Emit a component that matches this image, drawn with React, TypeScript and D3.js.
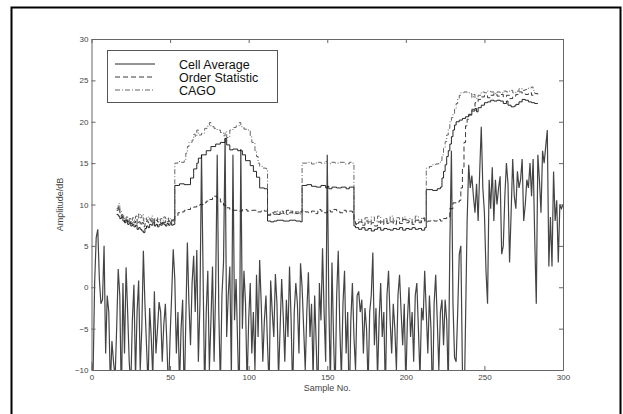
import React, { useEffect, useRef } from "react";
import * as d3 from "d3";

// received signal, one value per sample (0..300), in dB
const signal = [
  -9, -10.5, 0.5, 6, 7, 1, -2, -1.5, 5, -8, -1, -3, -12, -6.5, -9, -11, -5, 2.2, -1, -14,
  0.5, -8, 2.4, -3, -9, -12, -4, 0.3, -11, -3, 0.8, -10, -5, 4.4, -2, -7, -12, -2.5, -6, -11,
  -0.5, -8, -5, -1.8, -3, -9, -4.5, -2, -7, -13, -6, -1, 4.6, 1, -8, -3, -12, -5, -1.5, -14,
  -4, 5.4, -2, -7, 0.5, 3.8, -3, 4.5, -9, -2, 16, 1.5, -13, -3, 2, -10, -4, 2.5, -9, 0,
  16, -3, -12, -1, 3, 18, -6, -1, 2.5, -11, 16, -4, 1, -7, -14, 16.7, -5, 2, -2, -12,
  -4, 0.5, -8, -3, -10, 1.5, -6, 3.3, -2, -9, -4, -1, -7, -12, 0.8, -3, -6, 1.6, -2, -11,
  -5, 1, -3.5, -9, -1.5, -6, 2.5, -4, -13, -3, 0.5, -2, -8, 2.9, 0, -5, -10, -3, 1.8, -6,
  -2, -11, -1, -7, -14, 0.5, -4, 4.7, -3, -9, 16, -2, -12, 3, -6, -13, -1, 4.4, -5, -11,
  -2, 2, -8, -3, -15, -4, 0.5, -6, -10, -1, -0.5, -3, -1.5, -8, -2.5, -5, -12, -3, -1, 4.2,
  -7, -2.5, -11, -4, 0.5, -6, -3, -13, -1, 2, -4, -8, -2, -5, -10, -1, 1.5, -3, -7, -2,
  -12, -4, 0, -6, -3, -9, -1, 0.5, -5, -11, -2.5, -4, 2, -3, -8, -1, -5, -14, -2, 1.5,
  -4, -10, -3, -1.5, -7, -1.5, -4, -12, 5, 16.5, -2, -8.5, -9, -3, 4, 5, -10, -16, -4, 8,
  14.8, 12, 13.5, 11, 9, 12.5, 8, 14, 19.4, 12, 9, 2, -2, 13, 9.5, 14.5, 8, 13, 10, 12,
  13.4, 4, 5, 11, 15, 12.5, 3, 9, 15.5, 11, 9.5, 14, 12, 13, 15.5, 8, 10, 13, 12, 15,
  11, 15.5, 6, -2, 16, 13, 9, 16.5, 15, 17, 19, 2.5, 8.5, 2.5, 14, 8, 10.5, 3, 10, 9.5,
  10,
];

// Cell Average threshold [sample, dB]
const caPoints: [number, number][] = [
  [16, 8.8], [17, 8.6], [18, 8.3], [19, 8.5], [20, 8.0], [21, 7.8], [22, 8.1], [23, 7.6], [24, 7.8], [25, 7.4],
  [26, 7.6], [27, 7.3], [28, 7.5], [29, 7.0], [30, 7.2], [31, 7.0], [32, 6.8], [33, 6.6], [34, 7.1], [35, 7.4],
  [36, 7.2], [37, 7.6], [38, 7.5], [39, 7.8], [40, 7.4], [41, 7.6], [42, 7.3], [43, 7.6], [44, 7.5], [45, 7.8],
  [46, 7.6], [47, 7.4], [48, 7.7], [49, 7.5], [50, 7.8], [51, 7.5], [52, 7.6], [53, 12.3], [56, 12.5], [59, 12.4],
  [63, 13.2], [65, 14.3], [67, 15.0], [68, 15.6], [70, 16.0], [73, 16.5], [76, 17.0], [79, 17.3], [82, 17.5],
  [85, 18.0], [86, 17.2], [88, 16.6], [90, 16.7], [93, 16.5], [96, 16.0], [98, 15.3], [101, 14.7], [103, 14.0],
  [105, 13.3], [107, 12.0], [110, 11.9], [112, 8.0], [114, 7.9], [116, 8.0], [118, 8.1], [122, 8.0], [126, 8.1],
  [130, 8.0], [133, 7.9], [134, 12.3], [137, 12.4], [140, 12.2], [143, 12.1], [146, 12.3], [149, 12.0], [150, 12.2],
  [151, 11.9], [153, 12.1], [156, 12.0], [159, 12.1], [162, 11.9], [164, 12.1], [167, 7.4], [168, 7.2], [170, 7.0],
  [172, 7.2], [174, 6.9], [176, 7.1], [178, 6.8], [180, 7.0], [182, 7.2], [184, 6.9], [186, 7.1], [188, 7.0],
  [190, 6.9], [192, 7.1], [194, 7.0], [196, 7.2], [198, 6.9], [200, 7.1], [202, 7.0], [204, 7.2], [206, 7.0],
  [208, 7.1], [210, 6.9], [212, 7.2], [213, 11.8], [217, 11.7], [220, 11.9], [222, 12.1], [223, 13.2], [224, 14.0],
  [225, 14.8], [226, 15.8], [227, 16.5], [228, 17.3], [229, 18.2], [230, 19.0], [231, 19.6], [232, 20.0], [234, 20.2],
  [236, 20.4], [238, 20.6], [240, 20.9], [242, 21.3], [244, 21.6], [245, 21.2], [246, 21.7], [248, 22.0], [250, 22.3],
  [252, 22.4], [254, 22.6], [256, 22.5], [258, 22.6], [260, 22.5], [262, 22.2], [264, 22.5], [265, 22.0], [267, 21.8],
  [269, 21.9], [270, 22.1], [272, 22.4], [274, 22.7], [276, 22.6], [278, 22.4], [280, 22.3], [282, 22.2], [284, 22.2],
];

// Order Statistic threshold
const osPoints: [number, number][] = [
  [16, 9.3], [17, 9.7], [18, 9.0], [19, 8.6], [20, 8.4], [21, 8.0], [22, 8.3], [23, 7.9], [24, 8.1], [25, 7.7],
  [26, 8.0], [27, 7.8], [28, 8.2], [29, 7.6], [30, 7.9], [31, 7.5], [32, 7.8], [33, 7.3], [34, 7.7], [35, 8.0],
  [36, 7.8], [37, 8.1], [38, 7.9], [39, 8.2], [40, 7.8], [41, 8.1], [42, 7.9], [43, 8.0], [44, 7.7], [45, 8.0],
  [46, 7.8], [47, 8.1], [48, 7.9], [49, 8.0], [50, 7.8], [51, 8.1], [52, 7.9], [53, 8.6], [55, 9.0], [57, 9.1],
  [59, 9.3], [61, 9.4], [63, 9.6], [65, 9.7], [67, 9.9], [69, 10.0], [71, 10.2], [73, 10.4], [75, 10.6], [77, 10.8],
  [78, 11.0], [80, 10.7], [82, 10.3], [84, 9.9], [86, 9.6], [88, 9.4], [90, 9.3], [93, 9.2], [96, 9.4], [99, 9.2],
  [102, 9.3], [105, 9.1], [108, 9.3], [110, 9.2], [112, 8.7], [114, 8.9], [116, 9.1], [118, 8.8], [120, 9.2],
  [122, 8.9], [124, 9.3], [126, 9.0], [128, 9.2], [130, 8.9], [132, 9.1], [134, 9.3], [136, 9.1], [138, 9.0],
  [140, 9.2], [142, 8.9], [144, 9.4], [146, 9.2], [148, 9.0], [150, 9.3], [152, 9.1], [154, 9.4], [156, 9.2],
  [158, 9.0], [160, 9.3], [162, 9.1], [164, 9.2], [166, 8.9], [167, 7.9], [168, 7.6], [170, 7.9], [172, 7.5],
  [174, 8.0], [176, 7.6], [178, 7.8], [180, 7.4], [182, 7.9], [184, 7.6], [186, 8.1], [188, 7.7], [190, 7.9],
  [192, 7.6], [194, 8.0], [196, 7.7], [198, 8.2], [200, 7.8], [202, 8.0], [204, 7.6], [206, 8.1], [208, 7.8],
  [210, 8.3], [212, 7.9], [214, 8.0], [216, 8.1], [218, 8.0], [220, 8.2], [222, 8.0], [224, 8.3], [226, 8.5],
  [228, 9.5], [230, 10.2], [232, 10.3], [234, 10.5], [235, 12.0], [236, 14.5], [237, 17.5], [238, 19.5], [239, 20.3],
  [240, 20.8], [242, 21.5], [244, 22.3], [246, 22.7], [248, 23.0], [250, 23.2], [252, 22.9], [254, 23.2], [256, 23.4],
  [258, 23.1], [260, 23.3], [262, 23.0], [264, 23.2], [266, 22.8], [268, 23.1], [270, 23.3], [272, 23.6], [274, 23.4],
  [276, 23.3], [278, 23.5], [280, 23.2], [282, 23.4], [284, 23.3],
];

// CAGO threshold
const cagoPoints: [number, number][] = [
  [16, 9.5], [17, 10.1], [18, 9.2], [19, 8.8], [20, 8.6], [21, 8.2], [22, 8.5], [23, 8.0], [24, 8.3], [25, 7.9],
  [26, 8.4], [27, 8.1], [28, 8.6], [29, 8.2], [30, 8.9], [31, 8.4], [32, 8.8], [33, 8.0], [34, 8.4], [35, 8.1],
  [36, 8.5], [37, 8.2], [38, 8.6], [39, 8.0], [40, 8.3], [41, 8.1], [42, 8.4], [43, 8.0], [44, 8.3], [45, 8.1],
  [46, 8.5], [47, 8.2], [48, 8.4], [49, 8.0], [50, 8.3], [51, 8.1], [52, 8.2], [53, 15.0], [55, 15.2], [57, 15.1],
  [59, 15.3], [60, 16.2], [61, 17.0], [62, 17.5], [64, 17.8], [65, 18.5], [66, 18.2], [67, 19.0], [68, 18.4],
  [70, 18.6], [72, 19.2], [74, 19.5], [75, 19.9], [76, 19.4], [78, 19.2], [80, 19.0], [82, 18.7], [84, 18.3],
  [85, 18.8], [86, 18.1], [88, 19.0], [90, 19.3], [92, 19.5], [94, 19.9], [95, 19.4], [97, 19.1], [99, 19.0],
  [101, 18.2], [102, 17.5], [104, 16.5], [105, 15.8], [106, 15.0], [107, 14.6], [109, 14.4], [111, 14.3],
  [112, 8.8], [114, 9.0], [116, 8.8], [118, 9.2], [120, 8.9], [122, 9.1], [124, 8.8], [126, 9.2], [128, 8.9],
  [130, 9.1], [132, 8.8], [133, 9.0], [134, 15.0], [137, 15.1], [140, 14.9], [143, 15.1], [146, 15.0], [149, 15.2],
  [150, 14.9], [152, 15.1], [155, 15.0], [158, 15.1], [161, 14.9], [164, 15.1], [166, 15.0], [167, 8.0], [168, 7.7],
  [170, 8.2], [172, 7.8], [174, 8.4], [176, 7.9], [178, 8.5], [180, 8.0], [182, 8.6], [184, 7.9], [186, 8.3],
  [188, 7.8], [190, 8.6], [192, 8.0], [194, 8.4], [196, 7.9], [198, 8.5], [200, 8.1], [202, 8.3], [204, 7.8],
  [206, 8.6], [208, 8.0], [210, 8.4], [212, 8.1], [213, 14.4], [215, 14.6], [217, 14.8], [219, 14.9], [221, 15.1],
  [222, 15.3], [223, 16.0], [224, 16.8], [225, 17.6], [226, 18.4], [227, 19.2], [228, 20.0], [229, 20.5], [230, 21.0],
  [231, 21.6], [232, 22.2], [233, 22.8], [234, 23.2], [235, 23.5], [237, 23.6], [239, 23.5], [241, 23.4], [242, 22.9],
  [243, 23.3], [244, 22.8], [246, 23.2], [248, 23.6], [250, 23.5], [252, 23.7], [254, 23.6], [256, 23.4], [258, 23.6],
  [260, 23.5], [262, 23.7], [264, 23.6], [266, 23.8], [268, 23.5], [270, 23.7], [272, 24.0], [274, 23.8], [276, 23.9],
  [278, 24.1], [280, 24.2], [281, 23.8], [282, 23.5],
];

const xTicks = [0, 50, 100, 150, 200, 250, 300];
const yTicks = [-10, -5, 0, 5, 10, 15, 20, 25, 30];
const legendLabels = ["Cell Average", "Order Statistic", "CAGO"];

const W = 623;
const H = 414;
const plot = { left: 91.5, right: 563, top: 39, bottom: 370 };
const font = "'Liberation Sans', Arial, Helvetica, sans-serif";

const App = () => {
  const ref = useRef<SVGSVGElement>(null);

  useEffect(() => {
    const svg = d3.select(ref.current);
    svg.selectAll("*").remove();

    const x = d3.scaleLinear().domain([0, 300]).range([plot.left, plot.right]);
    const y = d3.scaleLinear().domain([-10, 30]).range([plot.bottom, plot.top]);

    svg.append("rect").attr("width", W).attr("height", H).attr("fill", "white");

    // outer frame (runs off the bottom of the picture)
    svg
      .append("rect")
      .attr("x", 11.5)
      .attr("y", 7.5)
      .attr("width", 609)
      .attr("height", 420)
      .attr("fill", "none")
      .attr("stroke", "black")
      .attr("stroke-width", 2);

    svg
      .append("clipPath")
      .attr("id", "plotclip")
      .append("rect")
      .attr("x", plot.left)
      .attr("y", plot.top)
      .attr("width", plot.right - plot.left)
      .attr("height", plot.bottom - plot.top);

    const g = svg.append("g").attr("clip-path", "url(#plotclip)");

    const sigLine = d3
      .line<number>()
      .x((d, i) => x(i))
      .y(d => y(d));

    g.append("path")
      .attr("d", sigLine(signal))
      .attr("fill", "none")
      .attr("stroke", "#444")
      .attr("stroke-width", 1.2);

    const thrLine = d3
      .line<[number, number]>()
      .x(d => x(d[0]))
      .y(d => y(d[1]))
      .curve(d3.curveStepAfter);

    const series = [
      { pts: caPoints, dash: null, color: "#111" },
      { pts: osPoints, dash: "5,3", color: "#222" },
      { pts: cagoPoints, dash: "5,2,1,2", color: "#555" },
    ];

    series.forEach(s => {
      g.append("path")
        .attr("d", thrLine(s.pts))
        .attr("fill", "none")
        .attr("stroke", s.color)
        .attr("stroke-width", 0.9)
        .attr("stroke-dasharray", s.dash);
    });

    // axes, ticks inward on all four sides
    const styleAxis = (sel: any) => {
      sel.selectAll("path").attr("stroke", "#666").attr("stroke-width", 1);
      sel.selectAll("line").attr("stroke", "#666");
      sel.selectAll("text").attr("fill", "#444").style("font-family", font).style("font-size", "8px");
    };

    svg
      .append("g")
      .attr("transform", `translate(0,${plot.bottom})`)
      .call(d3.axisBottom(x).tickValues(xTicks).tickSize(-4).tickSizeOuter(0).tickPadding(4))
      .call(styleAxis);

    svg
      .append("g")
      .attr("transform", `translate(0,${plot.top})`)
      .call(d3.axisTop(x).tickValues(xTicks).tickSize(-4).tickSizeOuter(0).tickFormat(() => ""))
      .call(styleAxis);

    svg
      .append("g")
      .attr("transform", `translate(${plot.left},0)`)
      .call(d3.axisLeft(y).tickValues(yTicks).tickSize(-4).tickSizeOuter(0).tickPadding(3).tickFormat(d3.format("d")))
      .call(styleAxis);

    svg
      .append("g")
      .attr("transform", `translate(${plot.right},0)`)
      .call(d3.axisRight(y).tickValues(yTicks).tickSize(-4).tickSizeOuter(0).tickFormat(() => ""))
      .call(styleAxis);

    svg
      .append("text")
      .attr("x", (plot.left + plot.right) / 2)
      .attr("y", 391)
      .attr("text-anchor", "middle")
      .style("font-family", font)
      .style("font-size", "9px")
      .attr("fill", "#444")
      .text("Sample No.");

    svg
      .append("text")
      .attr("transform", `translate(63,${(plot.top + plot.bottom) / 2}) rotate(-90)`)
      .attr("text-anchor", "middle")
      .style("font-family", font)
      .style("font-size", "9px")
      .attr("fill", "#444")
      .text("Amplitude/dB");

    // legend
    const lg = svg.append("g");
    lg.append("rect")
      .attr("x", 107.5)
      .attr("y", 50.5)
      .attr("width", 170)
      .attr("height", 52)
      .attr("fill", "white")
      .attr("stroke", "#555")
      .attr("stroke-width", 1);

    legendLabels.forEach((label, i) => {
      const ly = 64 + i * 13;
      lg.append("line")
        .attr("x1", 115)
        .attr("x2", 155)
        .attr("y1", ly)
        .attr("y2", ly)
        .attr("stroke", series[i].color)
        .attr("stroke-width", 0.9)
        .attr("stroke-dasharray", series[i].dash);
      lg.append("text")
        .attr("x", 179)
        .attr("y", ly + 4.5)
        .style("font-family", font)
        .style("font-size", "12.5px")
        .attr("fill", "#111")
        .text(label);
    });
  }, []);

  return (
    <svg
      ref={ref}
      width={W}
      height={H}
      style={{ position: "absolute", left: 0, top: 0, display: "block" }}
    />
  );
};

export default App;
